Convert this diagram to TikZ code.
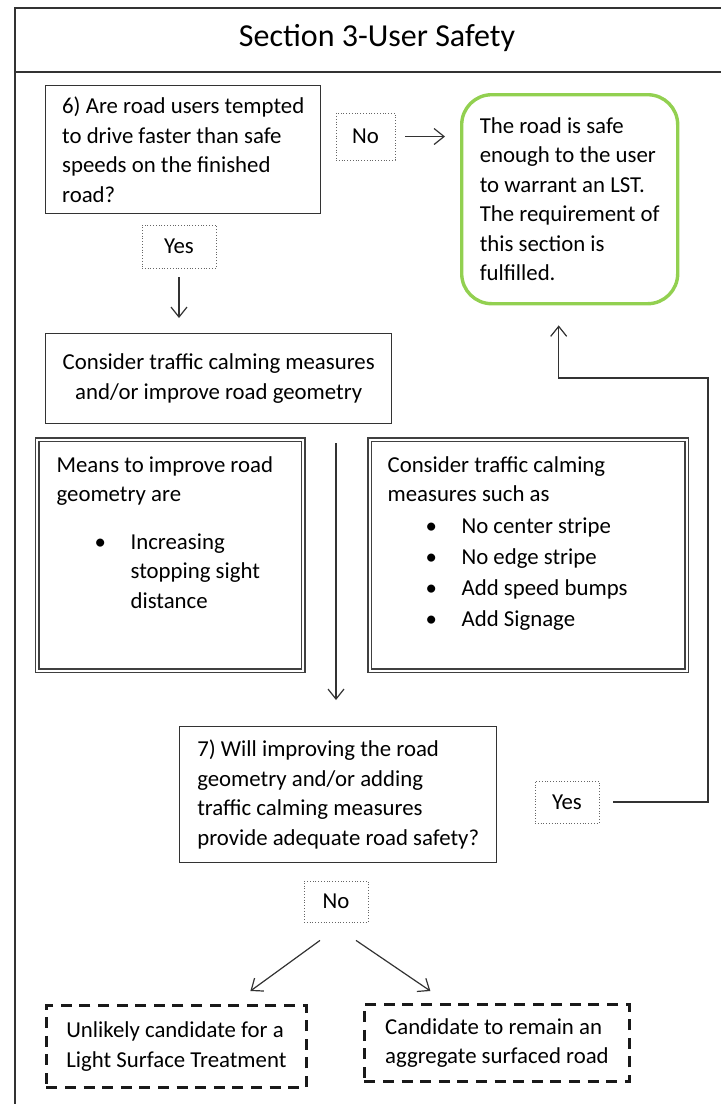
\documentclass[tikz,border=0pt]{standalone}
\usepackage{fontspec}
\setmainfont{Carlito}
\usepackage{tikz}
\usetikzlibrary{arrows.meta}
\usetikzlibrary{positioning}
\usetikzlibrary{calc}
\definecolor{safeGreen}{RGB}{146,208,80}
\tikzset{
    stepbox/.style={draw=black!80, line width=0.7pt, align=left},
    answer/.style={draw=black!60, densely dotted, line width=0.4pt},
    doublebox/.style={draw=black!75, double, double distance=1.1pt, line width=0.65pt},
    endbox/.style={draw=black!90, line width=1.4pt, dash pattern=on 5.5pt off 3.8pt, align=left},
  }
\newcommand{\bulletItem}{\hspace*{19pt}\makebox[18pt][l]{\textbullet}}
\newcommand{\bulletCont}{\hspace*{37pt}}

\begin{document}
\begin{tikzpicture}[x=0.5pt,y=-0.5pt,->,>={Straight Barb[length=5pt,width=8pt]},draw=black!80,line width=0.6pt,font=\fontsize{11.4pt}{14.75pt}\selectfont]
  \useasboundingbox (0,0) rectangle (721,1104);
  % frame and title
  \draw[-, line width=0.8pt] (721,8) -- (15,8) -- (15,1104);
  \draw[-, line width=0.8pt] (15,72) -- (721,72);
  \node[font=\fontsize{16pt}{19pt}\selectfont] (title) at (377,38) {Section 3-User Safety};

  \node[stepbox, anchor=north west, minimum width=137.5pt, minimum height=64pt] (Q6) at (45,85) {6) Are road users tempted\\to drive faster than safe\\speeds on the finished\\road?};
  \node[answer, minimum width=29.5pt, minimum height=23.5pt] (No1) at (365.5,136.5) {No};
  \node[draw=safeGreen, line width=1.7pt, rounded corners=15pt, align=left, anchor=north west, minimum width=108pt, minimum height=104.5pt] (safe) at (460,93) {The road is safe\\enough to the user\\to warrant an LST.\\The requirement of\\this section is\\fulfilled.};
  \node[answer, minimum width=37pt, minimum height=21.5pt] (Yes1) at (179,246.5) {Yes};
  \node[stepbox, anchor=north west, align=center, minimum width=173pt, minimum height=45pt] (calm) at (45,333) {Consider traffic calming measures\\and/or improve road geometry};

  \node[doublebox, anchor=north west, minimum width=133pt, minimum height=115.5pt] (geo) at (36.5,439) {};
  \node[anchor=north west, align=left, inner sep=0pt] (geoText) at (56,456) {Means to improve road\\geometry are\\[9pt]\bulletItem Increasing\\\bulletCont stopping sight\\\bulletCont distance};
  \node[doublebox, anchor=north west, minimum width=158.5pt, minimum height=115.5pt] (measures) at (369,439) {};
  \node[anchor=north west, align=left, inner sep=0pt] (measText) at (387,456) {Consider traffic calming\\measures such as\\[1pt]\bulletItem No center stripe\\[0.75pt]\bulletItem No edge stripe\\[0.75pt]\bulletItem Add speed bumps\\[0.75pt]\bulletItem Add Signage};

  \node[stepbox, anchor=north west, minimum width=158.5pt, minimum height=68pt] (Q7) at (179,726) {7) Will improving the road\\geometry and/or adding\\traffic calming measures\\provide adequate road safety?};
  \node[answer, minimum width=32pt, minimum height=21pt] (Yes2) at (567,802) {Yes};
  \node[answer, minimum width=32pt, minimum height=20.5pt] (No2) at (336,901.5) {No};
  \node[endbox, anchor=north west, minimum width=130pt, minimum height=41pt] (unlikely) at (45,1004) {Unlikely candidate for a\\Light Surface Treatment};
  \node[endbox, anchor=north west, minimum width=132.5pt, minimum height=38.5pt] (remain) at (363,1003) {Candidate to remain an\\aggregate surfaced road};

  \path (No1.east) edge[shorten <=5pt, shorten >=7.5pt] (No1.east -| safe.west);
  \path (Yes1.south) edge[shorten <=4.5pt, shorten >=7.5pt] (Yes1.south |- calm.north);
  \path (calm.south -| No2.north) edge[shorten <=9.5pt, shorten >=13pt] (Q7.north -| No2.north);
  % back to the green box
  \coordinate (bend) at (708,378);
  \coordinate (tip) at ([xshift=-5.5pt,yshift=-10pt]safe.south);
  \draw[shorten <=7pt] (Yes2.east) -- (Yes2.east -| bend) -- (bend) -- (bend -| tip) -- (tip);
  \path ([xshift=-8pt,yshift=-9pt]No2.south) edge ([xshift=37pt,yshift=6.5pt]unlikely.north);
  \path ([xshift=10pt,yshift=-9pt]No2.south) edge ([xshift=-33.25pt,yshift=6pt]remain.north);
\end{tikzpicture}
\end{document}
